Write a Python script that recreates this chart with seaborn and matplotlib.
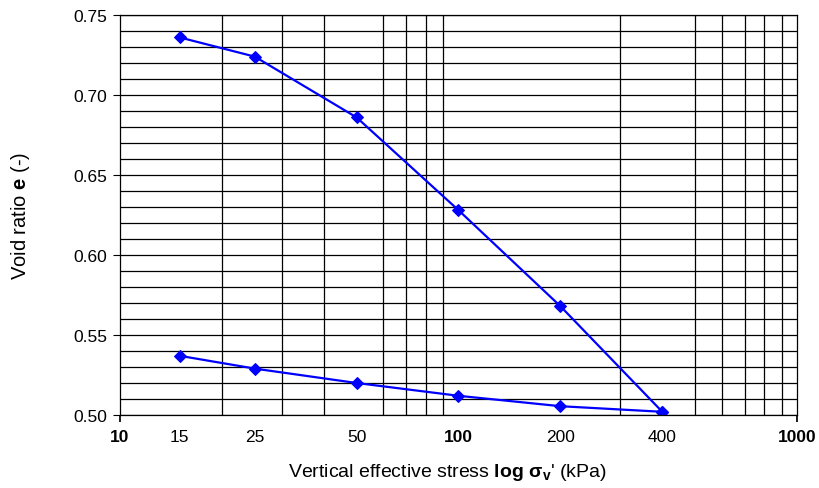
import numpy as np
import pandas as pd
import matplotlib
matplotlib.use("Agg")
import matplotlib.pyplot as plt
import seaborn as sns
from matplotlib.ticker import FixedLocator, LogLocator, MultipleLocator, FuncFormatter

# Data
stress = [15, 25, 50, 100, 200, 400]
e_loading = [0.736, 0.724, 0.686, 0.628, 0.568, 0.502]
e_unloading = [0.537, 0.529, 0.520, 0.512, 0.5055, 0.502]
xtick_values = [10, 15, 25, 50, 100, 200, 400, 1000]
xtick_labels = ["10", "15", "25", "50", "100", "200", "400", "1000"]
bold_xticks = ["10", "100", "1000"]

df = pd.DataFrame({
    "stress": stress + stress,
    "e": e_loading + e_unloading,
    "branch": ["loading"] * len(stress) + ["unloading"] * len(stress),
})

sns.set_theme(style="white")
plt.rcParams["font.family"] = ["Liberation Sans", "DejaVu Sans"]
plt.rcParams["mathtext.fontset"] = "custom"
plt.rcParams["mathtext.rm"] = "Liberation Sans"
plt.rcParams["mathtext.bf"] = "Liberation Sans:bold"
plt.rcParams["mathtext.it"] = "Liberation Sans:italic"

fig = plt.figure(figsize=(8.2, 4.89), dpi=100)
ax = fig.add_axes([120 / 820, 1 - 416 / 489, (797 - 120) / 820, (416 - 16) / 489])

sns.lineplot(data=df, x="stress", y="e", units="branch", estimator=None,
             color="#0000FF", marker="D", markersize=6.5, markeredgecolor="#0000FF",
             linewidth=1.6, ax=ax, legend=False, sort=False)

ax.set_xscale("log")
ax.set_xlim(10, 1000)
ax.set_ylim(0.50, 0.75)

# x ticks
ax.xaxis.set_major_locator(FixedLocator(xtick_values))
ax.xaxis.set_major_formatter(FuncFormatter(lambda v, p: ""))
ax.set_xticklabels(xtick_labels)
ax.xaxis.set_minor_locator(LogLocator(base=10, subs=np.arange(2, 10)))
ax.tick_params(axis="x", which="both", length=0, labelsize=12.5, pad=10, colors="black")
for lab in ax.get_xticklabels():
    if lab.get_text() in bold_xticks:
        lab.set_fontweight("bold")
for tk, val in zip(ax.xaxis.get_major_ticks(), xtick_values):
    if val in (10, 1000):
        tk.tick1line.set_markersize(5)
        tk.tick1line.set_visible(True)

# y ticks
ax.yaxis.set_major_locator(MultipleLocator(0.05))
ax.yaxis.set_minor_locator(MultipleLocator(0.01))
ax.yaxis.set_major_formatter(FuncFormatter(lambda v, p: f"{v:.2f}"))
ax.tick_params(axis="y", which="major", length=5, width=0.8, direction="out",
               left=True, labelsize=12.5, colors="black", pad=4)
ax.tick_params(axis="y", which="minor", length=0)

ax.grid(False)
ax.grid(True, which="minor", axis="x", color="black", linewidth=0.9)
ax.grid(True, which="both", axis="y", color="black", linewidth=0.9)
ax.set_axisbelow(True)

for s in ax.spines.values():
    s.set_color("black")
    s.set_linewidth(0.9)

ax.set_xlabel(r"Vertical effective stress $\mathbf{log}$ $\mathbf{\sigma_v}$' (kPa)",
              fontsize=14, labelpad=12, color="black")
ax.xaxis.set_label_coords(0.484, -0.115)
ax.set_ylabel(r"Void ratio $\mathbf{e}$ (-)", fontsize=14.5, labelpad=30, color="black")

fig.savefig("out.png", dpi=100, facecolor="white")
